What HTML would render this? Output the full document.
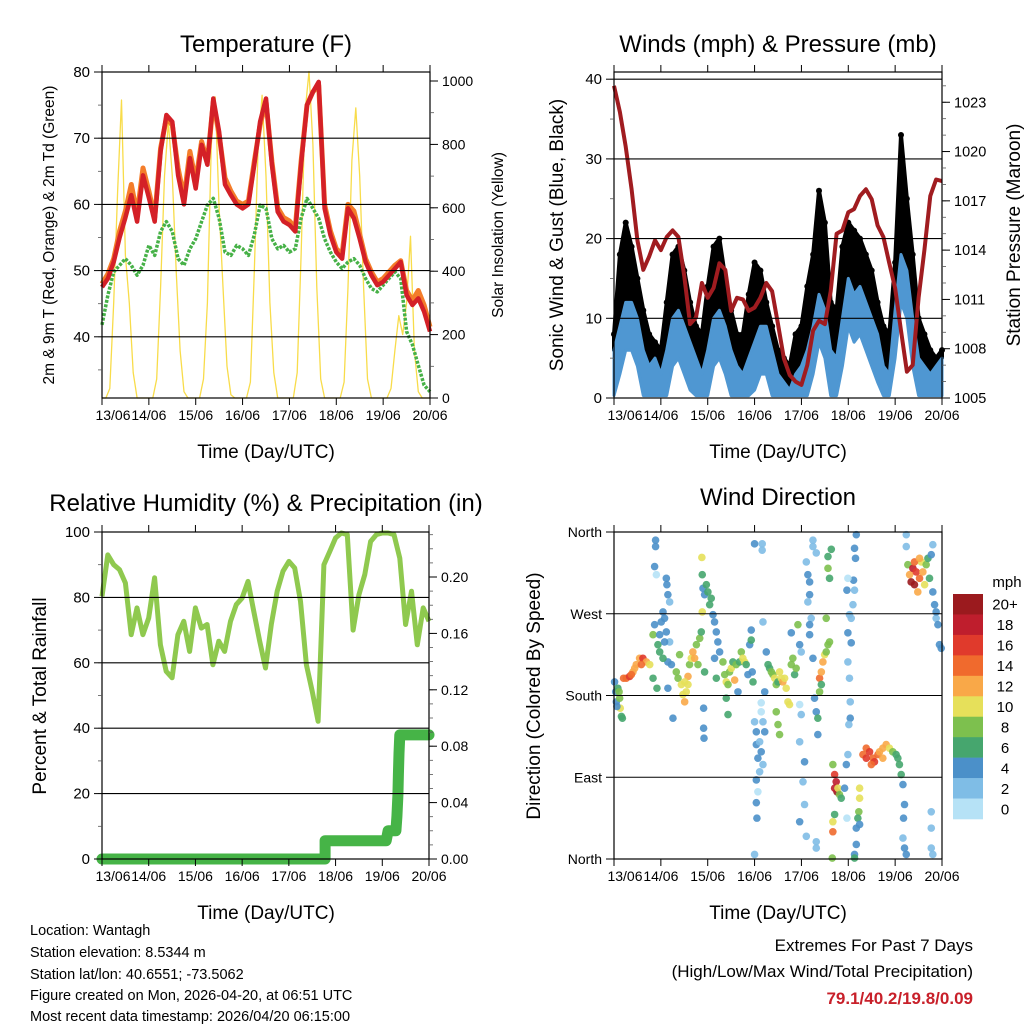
<!DOCTYPE html>
<html><head><meta charset="utf-8">
<style>
html,body{margin:0;padding:0;background:#fff;}
svg{display:block;font-family:"Liberation Sans",Arial,sans-serif;}
</style></head>
<body>
<svg id="fig" width="1024" height="1024" viewBox="0 0 1024 1024" xmlns="http://www.w3.org/2000/svg">
<rect width="1024" height="1024" fill="#fff"/>
<g id="layer-marks"></g>
<g id="layer-axes"></g>
<g fill="#000">
<text x="266" y="52" font-size="24" text-anchor="middle">Temperature (F)</text>
<text x="778" y="52" font-size="24" text-anchor="middle">Winds (mph) &amp; Pressure (mb)</text>
<text x="266" y="511" font-size="24" text-anchor="middle">Relative Humidity (%) &amp; Precipitation (in)</text>
<text x="778" y="505" font-size="24" text-anchor="middle">Wind Direction</text>
<text x="266" y="458" font-size="19" text-anchor="middle">Time (Day/UTC)</text>
<text x="778" y="458" font-size="19" text-anchor="middle">Time (Day/UTC)</text>
<text x="266" y="919" font-size="19" text-anchor="middle">Time (Day/UTC)</text>
<text x="778" y="919" font-size="19" text-anchor="middle">Time (Day/UTC)</text>
<text transform="translate(54,235) rotate(-90)" font-size="15.5" text-anchor="middle">2m &amp; 9m T (Red, Orange) &amp; 2m Td (Green)</text>
<text transform="translate(503,235) rotate(-90)" font-size="15.5" text-anchor="middle">Solar Insolation (Yellow)</text>
<text transform="translate(563,235) rotate(-90)" font-size="19" text-anchor="middle">Sonic Wind &amp; Gust (Blue, Black)</text>
<text transform="translate(1020,235) rotate(-90)" font-size="19" text-anchor="middle">Station Pressure (Maroon)</text>
<text transform="translate(46,696) rotate(-90)" font-size="19" text-anchor="middle">Percent &amp; Total Rainfall</text>
<text transform="translate(540,696) rotate(-90)" font-size="19" text-anchor="middle">Direction (Colored By Speed)</text>
<text x="30" y="935" font-size="14.5">Location: Wantagh</text>
<text x="30" y="957" font-size="14.5">Station elevation: 8.5344 m</text>
<text x="30" y="979" font-size="14.5">Station lat/lon: 40.6551; -73.5062</text>
<text x="30" y="1000" font-size="14.5">Figure created on Mon, 2026-04-20, at 06:51 UTC</text>
<text x="30" y="1021" font-size="14.5">Most recent data timestamp: 2026/04/20 06:15:00</text>
<text x="973" y="951" font-size="17" text-anchor="end">Extremes For Past 7 Days</text>
<text x="973" y="977" font-size="17" text-anchor="end">(High/Low/Max Wind/Total Precipitation)</text>
<text x="973" y="1004" font-size="17" font-weight="bold" fill="#c8202a" text-anchor="end">79.1/40.2/19.8/0.09</text>
<text x="1007" y="587" font-size="15" text-anchor="middle">mph</text>
</g>
</svg>
<script>
// ---------- data ----------
const dayLabels = ["13/06","14/06","15/06","16/06","17/06","18/06","19/06","20/06"];
// 3-hourly samples, t = 0..168 h
const tempRed = [47.5,48.8,51.3,55,58,61.4,57.4,64.4,61,57.4,68,73.5,72.5,64.4,60,67,62.4,69,66,76,71,63,61.4,60,59.4,60,66,72.5,76,66,58.9,57.4,56.9,55.9,66,75,77,78.5,59.4,55.4,52.8,51.8,59.4,57.9,54.8,51.3,49.3,47.8,48.3,49.3,50.3,51.3,46.3,44.8,45.8,43.8,40.8];
const tempOrange = [48,49.5,51.8,56,59,63,58.5,65.5,62,58,68.5,73,72,65.5,61,68,63.5,69.5,66.5,75.5,70.5,64,62,60.5,60,60.5,66.5,72,75.5,66.5,59.5,58,57.5,56.5,66.5,75,77,78,60,56,53.3,52.5,60,59,55.5,51.8,49.8,48.3,48.8,49.8,50.8,51.5,47,45.5,47,44.8,41.5];
const dewPoint = [41.8,46.3,49.8,50.8,51.8,50.8,49.3,50.8,53.8,52.3,55.9,57.4,55.9,51.8,50.8,53.3,54.8,57.4,59.9,60.9,57.9,52.8,52.3,53.8,53.3,52.3,55.4,59.9,59.4,54.8,53.3,53.8,52.8,53.3,57.9,60.9,59.4,57.9,54.8,52.8,51.3,50.3,51.3,51.8,50.8,48.8,47.3,46.8,47.8,48.8,49.8,48.8,40.8,38.8,35.7,32.7,31.7];
// 2-hourly solar insolation, t = 0..168 h
const solar = [0,0,30,300,650,940,450,300,80,0,0,0,
 0,0,60,350,700,870,700,400,150,20,0,0,
 0,0,60,300,800,950,600,350,100,10,0,0,
 0,0,50,400,800,955,700,300,80,0,0,0,
 0,0,80,450,900,1030,800,350,60,0,0,0,
 0,0,50,350,750,915,700,350,60,0,0,0,
 0,0,30,150,260,200,300,510,150,20,0,0,0];
const windSpeed = [6,9,12,12,10,6,4,5,3,6,10,11,9,7,5,3,6,10,11,9,6,4,3,5,7,9,9,6,3,2,1,3,4,6,9,13,11,6,5,10,15,13,14,12,10,8,4,3,11,18,16,10,5,4,3,4,5];
const windGust = [8,18,22,19,15,11,8,7,6,12,18,19,16,12,9,8,14,19,20,15,11,8,8,13,17,16,12,9,6,5,4,8,9,14,18,26,22,12,11,19,22,21,20,18,16,12,9,8,17,33,25,18,10,8,6,5,6];
const pressure = [1024,1022.4,1020.3,1017.7,1014.6,1012.8,1013.6,1014.6,1014,1014.8,1015.2,1014.8,1012.4,1009.5,1009.9,1012,1011.1,1011.7,1013.2,1012.8,1010.3,1011.1,1011,1010.3,1010.5,1011.1,1012,1011.5,1009.5,1007.4,1006.4,1006,1005.8,1007,1009.1,1009.7,1009.5,1011.5,1015,1015.2,1016.3,1016.5,1017.3,1017.7,1017.1,1015.5,1014.8,1013.2,1011.7,1009.1,1006.6,1007,1011.1,1014,1017.3,1018.3,1018.2];
const relHum = [80.3,93,90,88.5,84.4,68.6,76.8,68.6,73.7,86,65.5,57.4,55.4,68.6,72.7,63.5,76.8,70.6,71.7,59.4,66.6,63.5,72.7,77.8,79.8,84.9,75.7,66.6,58.4,71.7,81.9,88,91,89,78.8,59.4,51.3,42.1,90,94,98.2,99.7,99.2,70,80.8,87,97.1,99.2,99.7,99.7,99.2,92,71.7,81.9,65.5,76.8,72.7];
const precipTime = [0,114.6,114.6,146,147,151,151.5,152,152.3,152.6,153,168];
const precipTotal = [0,0,0.013,0.013,0.02,0.02,0.03,0.045,0.06,0.075,0.088,0.088];
// wind direction observations
const dirTime = [0.3,0.9,1.2,2,2.9,3.2,3.8,4.3,1.5,2.6,
4.9,6.3,8,9.7,11.4,13.1,14.8,16.6,18.3,14,10.6,8.9,
20,20.8,21.3,21.3,20.8,21.7,22.5,23.4,24.2,25.1,25.9,26.8,27.1,27.6,28.5,26.8,28.5,27.6,29.4,25.1,20,22,27.6,30.2,23.4,25.9,
31.9,32.8,33.6,34.5,35.3,36.2,37,37.9,38.7,39.6,40.4,41.3,42.2,43,43.9,44.7,37.9,36.2,
45,45.2,45.2,45.6,46.4,47.3,48.1,49,49.8,50.7,51.5,46.4,45.9,45.9,46.1,52.4,53.2,51.5,54.1,52.4,
55.8,56.7,57.5,58.4,59.2,60.1,60.9,61.8,62.6,63.5,57.5,58.4,64.3,65.2,66,66.9,67.7,68.6,69.5,70.3,70.8,71.2,70.3,
72,75.9,75.9,76.3,72,72.9,72.9,73.7,74.6,72.9,73.7,72.9,73.2,72,75.4,76.3,77.2,74.6,75.4,76.3,75.4,
78,78.9,79.7,80.6,81.4,82.3,83.1,84,84.8,85.7,86.5,87.4,88.2,89.1,89.9,90.8,91.6,92.5,93.3,94.2,84,84.8,83.1,77.2,95.1,95.9,95.1,95.9,95.1,
101.9,101.9,103.6,98.5,99.3,100.2,100.2,99.3,101,100.2,100.2,101.9,102.7,103.6,104.4,104.4,97.6,96.8,97.6,95.1,98.5,103.6,103.6,90.8,
105.3,106.2,107,107.9,108.7,109.6,110.4,108.7,109.6,110.4,109.6,111.3,105.3,106.2,
112.1,113,113.8,114.2,113,113,112.1,112.1,111.8,114.7,115.5,
116.4,118.1,119,119.8,119.3,119.8,119.8,120.6,121.5,121.5,120.6,121,121,120.3,122.7,123.2,122.4,123.7,124.1,123.2,119.8,119.3,
125.8,125.8,125.4,124.9,124.1,124.1,123.2,123.2,125.8,
127.5,129.2,130.9,132.6,133.4,135.2,136,137.7,139.4,141.1,142.8,144.5,145.4,146.2,147.1,148,137.7,129.2,131.8,
148.8,148.3,148.8,149.7,148,149.7,149.7,
150.5,151.4,152.2,153.1,153.9,154.8,155.6,156.5,157.4,158.2,159.1,159.9,160.8,161.6,153.9,156.5,
163.3,162.5,163.3,164.2,165,165.9,166.7,167.6,162.5,162.5,162.5,163.3,165];
const dirDeg = [195,184,173,188,177,166,157,155,168,184,
199,199,201,206,214,221,221,217,214,214,210,203,
247,258,351,344,322,313,236,247,261,272,265,309,302,291,283,250,239,217,214,221,199,188,188,155,228,239,
206,199,225,192,181,173,184,201,214,221,228,221,236,214,243,250,192,195,
332,313,272,298,291,302,294,280,287,269,261,206,166,144,133,250,239,221,228,199,
217,203,195,192,206,210,217,197,214,184,177,159,217,228,221,217,214,203,236,241,206,195,252,
347,347,340,261,151,140,126,111,96,87,74,62,45,5,162,151,140,129,118,104,172,
228,214,210,206,203,199,192,195,206,199,195,199,188,173,170,214,221,203,210,258,148,137,162,184,236,228,170,159,129,
351,344,337,327,313,305,291,283,265,258,247,221,177,162,155,137,107,85,60,41,25,19,12,249,
199,206,217,225,228,236,239,265,320,309,333,341,184,192,
104,93,85,74,78,49,41,30,1,78,71,
67,78,104,115,45,217,249,269,265,238,199,173,155,148,307,296,280,331,357,342,309,296,
78,67,52,45,34,16,5,1,38,
115,122,118,111,107,115,118,122,126,122,118,115,111,104,93,82,111,111,104,
60,45,12,5,23,357,344,
324,313,305,320,302,316,294,309,327,316,302,324,331,309,327,331,
346,335,294,280,265,258,236,232,52,34,12,5,272];
const dirSpeed = [4,4,4,6,8,10,6,6,4,8,
14,14,16,12,12,12,16,12,10,14,12,14,
8,4,4,4,4,0,6,4,4,4,4,4,4,4,2,4,2,4,4,6,6,6,4,4,6,4,
8,8,8,10,10,12,10,12,8,10,12,12,8,8,8,6,10,10,
10,6,10,4,4,6,6,6,6,4,4,6,4,4,4,4,4,4,4,6,
8,8,10,8,8,10,6,12,8,4,6,6,6,8,10,10,6,4,4,6,4,6,4,
4,2,2,2,2,4,4,4,2,4,0,4,4,2,0,2,4,2,4,2,0,
4,6,6,8,8,10,8,6,10,10,12,10,10,10,10,8,8,6,8,8,8,8,8,4,4,2,0,2,2,
2,2,2,2,4,4,4,2,2,4,4,4,4,4,6,4,4,2,2,4,2,2,2,4,
14,12,12,10,8,8,8,8,8,6,6,6,8,6,
8,16,18,20,18,6,10,14,8,10,8,
6,4,4,2,0,2,4,2,2,4,2,2,4,2,4,2,2,4,4,4,0,4,
10,10,8,6,4,4,4,6,4,
14,14,16,14,16,14,12,12,12,10,8,6,6,6,6,4,12,16,14,
4,4,4,4,2,2,2,
8,12,20,18,20,16,12,14,10,12,10,8,6,6,14,12,
2,4,4,4,2,4,4,4,2,2,2,2,4];
const speedBins = ["0","2","4","6","8","10","12","14","16","18","20+"];
const speedColors = ["#b6e2f6","#7fbde6","#4b90c9","#46a66e","#7dc04e","#e6e05a","#f9a848","#f06a2d","#e03a2c","#bf1e2d","#9b1a1e"];

// ---------- helpers ----------
const NS = "http://www.w3.org/2000/svg";
const marks = document.getElementById("layer-marks");
const axes = document.getElementById("layer-axes");
function mk(parent, tag, attrs, text) {
  const el = document.createElementNS(NS, tag);
  for (const k in attrs) el.setAttribute(k, attrs[k]);
  if (text !== undefined) el.textContent = text;
  parent.appendChild(el);
  return el;
}
const P1 = {x0:102, x1:430, y0:72, y1:398};
const P2 = {x0:614, x1:942, y0:72, y1:398};
const P3 = {x0:102, x1:429, y0:532, y1:859};
const P4 = {x0:614, x1:942, y0:532, y1:859};
function xScale(P) { return t => P.x0 + t / 168 * (P.x1 - P.x0); }
const x1s = xScale(P1), x2s = xScale(P2), x3s = xScale(P3), x4s = xScale(P4);
const yTemp = v => 72 + (80 - v) * 6.62;
const ySolar = v => 398 - v * 0.317;
const yWind = v => 398 - v * 7.97;
const yPres = p => 398 - (p - 1005) * 16.43;
const yRH = v => 859 - v * 3.27;
const yPrecip = v => 859 - v * 1410;
const yDir = d => 859 - d * 0.9083;

function linePts(xs, ys, arr, step) {
  return arr.map((v, i) => xs(i * step).toFixed(1) + "," + ys(v).toFixed(1)).join(" ");
}
function frame(P, name) {
  const r = mk(axes, "rect", {x:P.x0, y:P.y0, width:P.x1-P.x0, height:P.y1-P.y0, fill:"none", stroke:"#000", "stroke-width":1.2});
  
  
}
function xTicks(P, xs, name) {
  for (let d = 0; d <= 7; d++) {
    const x = xs(d * 24);
    const tb = mk(axes, "line", {x1:x, x2:x, y1:P.y1, y2:P.y1+7, stroke:"#000", "stroke-width":1});
    
    
    const tt = mk(axes, "line", {x1:x, x2:x, y1:P.y0, y2:P.y0-7, stroke:"#000", "stroke-width":1});
    
    
    const lx = d === 0 ? x + 11 : x;
    const lb = mk(axes, "text", {x:lx, y:P.y1+22, "font-size":14, "text-anchor":"middle"}, dayLabels[d]);
    
    
  }
}
function yTicks(P, ys, vals, labels, side, minor, name, fs) {
  const xb = side === "left" ? P.x0 : P.x1;
  const dir = side === "left" ? -1 : 1;
  minor.forEach(v => {
    const y = ys(v);
    const m = mk(axes, "line", {x1:xb, x2:xb+dir*4, y1:y, y2:y, stroke:"#555", "stroke-width":0.8});
    
    
  });
  vals.forEach((v, i) => {
    const y = ys(v);
    const t = mk(axes, "line", {x1:xb, x2:xb+dir*8, y1:y, y2:y, stroke:"#000", "stroke-width":1});
    
    
    const lb = mk(axes, "text", {x:xb+dir*12, y:y+5, "font-size":fs||14.5, "text-anchor": side==="left"?"end":"start"}, labels[i]);
    
    
  });
}
function grid(P, ys, vals, name) {
  vals.forEach(v => {
    const y = ys(v);
    const g = mk(axes, "line", {x1:P.x0, x2:P.x1, y1:y, y2:y, stroke:"#000", "stroke-width":1.1});
    
    
  });
}
function range(a, b, s) { const r = []; for (let v = a; v <= b + 1e-9; v += s) r.push(+v.toFixed(4)); return r; }

// ---------- panel 1: temperature ----------
const tempTicks = [40,50,60,70,80];
const solarTicks = [0,200,400,600,800,1000];
grid(P1, yTemp, [40,50,60,70], "temp-gridline");
const solarLine = mk(marks, "polyline", {points: linePts(x1s, ySolar, solar, 2), fill:"none", stroke:"#f8dc4a", "stroke-width":1.3, "stroke-linejoin":"round"});


const dewLine = mk(marks, "polyline", {points: linePts(x1s, yTemp, dewPoint, 3), fill:"none", stroke:"#46b147", "stroke-width":3.5, "stroke-dasharray":"3 1.5", "stroke-linejoin":"round"});


const orangeLine = mk(marks, "polyline", {points: linePts(x1s, yTemp, tempOrange, 3), fill:"none", stroke:"#f47d2a", "stroke-width":5, "stroke-linejoin":"round"});


const redLine = mk(marks, "polyline", {points: linePts(x1s, yTemp, tempRed, 3), fill:"none", stroke:"#d42027", "stroke-width":4.5, "stroke-linejoin":"round"});


frame(P1, "temp-plot-frame");
xTicks(P1, x1s, "temp-x");
yTicks(P1, yTemp, tempTicks, tempTicks.map(String), "left", range(35,80,5), "temp-y", 15);
yTicks(P1, ySolar, solarTicks, solarTicks.map(String), "right", range(0,1000,100), "solar-y", 14);

// ---------- panel 2: winds & pressure ----------
const windTicks = [0,10,20,30,40];
const presTicks = [1005,1008,1011,1014,1017,1020,1023];
grid(P2, yWind, [10,20,30,40], "wind-gridline");
let poly = windGust.map((v,i) => x2s(i*3).toFixed(1)+","+yWind(v).toFixed(1));
for (let i = windSpeed.length-1; i >= 0; i--) poly.push(x2s(i*3).toFixed(1)+","+yWind(windSpeed[i]).toFixed(1));
const gustBand = mk(marks, "polygon", {points: poly.join(" "), fill:"#000", stroke:"#000", "stroke-width":4, "stroke-linejoin":"round"});


windGust.forEach((v, i) => {
  const c = mk(marks, "circle", {cx:x2s(i*3), cy:yWind(v), r:3, fill:"#000"});
  
  
});
let bpoly = windSpeed.map((v,i) => x2s(i*3).toFixed(1)+","+yWind(v).toFixed(1));
for (let i = windSpeed.length-1; i >= 0; i--) bpoly.push(x2s(i*3).toFixed(1)+","+yWind(Math.max(0.3, windSpeed[i]-6)).toFixed(1));
const windBand = mk(marks, "polygon", {points: bpoly.join(" "), fill:"#4f97d2", stroke:"#4f97d2", "stroke-width":3, "stroke-linejoin":"round"});


const presLine = mk(marks, "polyline", {points: linePts(x2s, yPres, pressure, 3), fill:"none", stroke:"#a01c20", "stroke-width":4, "stroke-linejoin":"round"});


frame(P2, "wind-plot-frame");
xTicks(P2, x2s, "wind-x");
yTicks(P2, yWind, windTicks, windTicks.map(String), "left", range(5,40,5), "wind-y", 15);
yTicks(P2, yPres, presTicks, presTicks.map(String), "right", range(1005,1024,1), "pressure-y", 14.5);

// ---------- panel 3: RH & precip ----------
const rhTicks = [0,20,40,60,80,100];
const precipTicks = [0,0.04,0.08,0.12,0.16,0.20];
grid(P3, yRH, [20,40,60,80], "rh-gridline");
const rhLine = mk(marks, "polyline", {points: linePts(x3s, yRH, relHum, 3), fill:"none", stroke:"#8fc94f", "stroke-width":5, "stroke-linejoin":"round"});


const prPts = precipTime.map((t,i) => x3s(t).toFixed(1)+","+yPrecip(precipTotal[i]).toFixed(1)).join(" ");
const prLine = mk(marks, "polyline", {points: prPts, fill:"none", stroke:"#46b447", "stroke-width":11, "stroke-linejoin":"round", "stroke-linecap":"round"});


frame(P3, "rh-plot-frame");
xTicks(P3, x3s, "rh-x");
yTicks(P3, yRH, rhTicks, rhTicks.map(String), "left", range(10,100,10), "rh-y", 15);
yTicks(P3, yPrecip, precipTicks, precipTicks.map(v=>v.toFixed(2)), "right", range(0,0.23,0.01), "precip-y", 14);

// ---------- panel 4: wind direction ----------
const dirTicks = [0,90,180,270,360];
const dirLabels = ["North","East","South","West","North"];
grid(P4, yDir, [90,180,270], "dir-gridline");
dirTime.forEach((t, i) => {
  const s = dirSpeed[i];
  const bin = Math.min(10, Math.floor(s / 2));
  const c = mk(marks, "circle", {cx:x4s(t), cy:yDir(dirDeg[i]), r:3.8, fill:speedColors[bin], "fill-opacity":0.9});
  
  
});
frame(P4, "dir-plot-frame");
xTicks(P4, x4s, "dir-x");
yTicks(P4, yDir, dirTicks, dirLabels, "left", [], "dir-y", 14);
const cbTop = 594, cbH = 225 / 11;
speedBins.forEach((lab, k) => {
  const idx = 10 - k;
  const y = cbTop + k * cbH;
  const r = mk(axes, "rect", {x:953, y:y, width:30, height:cbH+0.3, fill:speedColors[idx]});
  
  
  const t = mk(axes, "text", {x:1005, y:y+cbH/2+5.5, "font-size":15, "text-anchor":"middle"}, speedBins[idx]);
  
  
});
</script>
</body></html>
